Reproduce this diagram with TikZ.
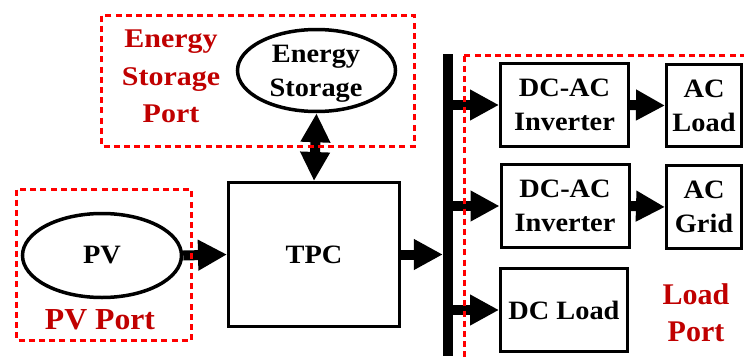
\documentclass[tikz,border=0pt]{standalone}
\usepackage{fontspec}
\setmainfont{Liberation Serif}
\newfontfamily\blkfont{Liberation Serif}[FakeStretch=1.07]
\newfontfamily\esfont{Liberation Serif}[FakeStretch=1.11]
\newfontfamily\pvfont{Liberation Serif}[FakeStretch=1.04]
\usetikzlibrary{arrows.meta,shapes.geometric}
\definecolor{lblred}{RGB}{192,0,0}
\definecolor{dashred}{RGB}{255,0,0}
\tikzset{
  blk/.style={draw, line width=3pt, rectangle, inner sep=0pt, align=center,
    font=\blkfont\fontsize{26.5}{34}\selectfont\bfseries},
  ell/.style={draw, line width=3.5pt, ellipse, inner sep=0pt, align=center,
    font=\blkfont\fontsize{26.5}{34}\selectfont\bfseries},
  txt/.style={inner sep=0pt, align=center, font=\blkfont\fontsize{26.5}{34}\selectfont\bfseries},
  portbox/.style={draw=dashred, line width=3pt, dash pattern=on 6pt off 4.2pt},
  portlbl/.style={text=lblred, inner sep=0pt, align=center},
  arr/.style={line width=10pt, -{Triangle[length=29pt,width=29pt]}},
  darr/.style={line width=10pt, {Triangle[length=29pt,width=28pt]}-{Triangle[length=29pt,width=28pt]}},
}
\begin{document}
\begin{tikzpicture}[x=1pt,y=-1pt]
\useasboundingbox (0,0) rectangle (744,356);
% nodes
\node[ell, minimum width=158pt, minimum height=82pt] (es) at (316.5,70.5) {};
\node[txt] (estext) at (316,74) {Energy\\Storage};
\node[ell, minimum width=159pt, minimum height=84pt] (pv) at (102,255.5) {PV};
\node[blk, minimum width=171pt, minimum height=144pt] (tpc) at (314,254.5) {TPC};
\node[fill=black, inner sep=0pt, minimum width=10pt, minimum height=302pt] (bus) at (448,205) {};
\node[blk, minimum width=128pt, minimum height=83pt] (inv1) at (564.5,105) {DC-AC\\Inverter};
\node[blk, minimum width=128pt, minimum height=83pt] (inv2) at (565,206) {DC-AC\\Inverter};
\node[blk, minimum width=127pt, minimum height=83pt] (dcl) at (564,310) {DC Load};
\node[blk, minimum width=75pt, minimum height=82pt] (acl) at (704,105.5) {AC\\Load};
\node[blk, minimum width=75pt, minimum height=83pt] (acg) at (704,207) {AC\\Grid};
% port labels
\node[portlbl, font=\esfont\fontsize{27}{37.5}\selectfont\bfseries] (esplbl) at (171,76.5) {Energy\\Storage\\Port};
\node[portlbl, anchor=base, font=\pvfont\fontsize{30.5}{37.5}\selectfont\bfseries] (pvplbl) at (100,329.3) {PV Port};
\node[portlbl, font=\fontsize{30}{37.5}\selectfont\bfseries] (lplbl) at (696,312.7) {Load\\Port};
% connectors
\draw[arr] (pv.east) -- (tpc.west);
\draw[darr] (es.south) -- (tpc.north);
\draw[arr] (tpc.east) -- (tpc.east -| bus.west);
\draw[arr] (inv1.west -| bus.center) -- (inv1.west);
\draw[arr] (inv2.west -| bus.center) -- (inv2.west);
\draw[arr] (dcl.west -| bus.center) -- (dcl.west);
\draw[arr] (inv1.east) -- (acl.west);
\draw[arr] (inv2.east) -- (acg.west);
% port boxes
\draw[portbox] (101.5,15.5) rectangle (414.5,146);
\draw[portbox] (16.5,189.5) rectangle (191.5,340.5);
\begin{scope}
\clip (0,0) rectangle (744,356);
\draw[portbox] (464,55.5) rectangle (770,380);
\end{scope}
\end{tikzpicture}
\end{document}
